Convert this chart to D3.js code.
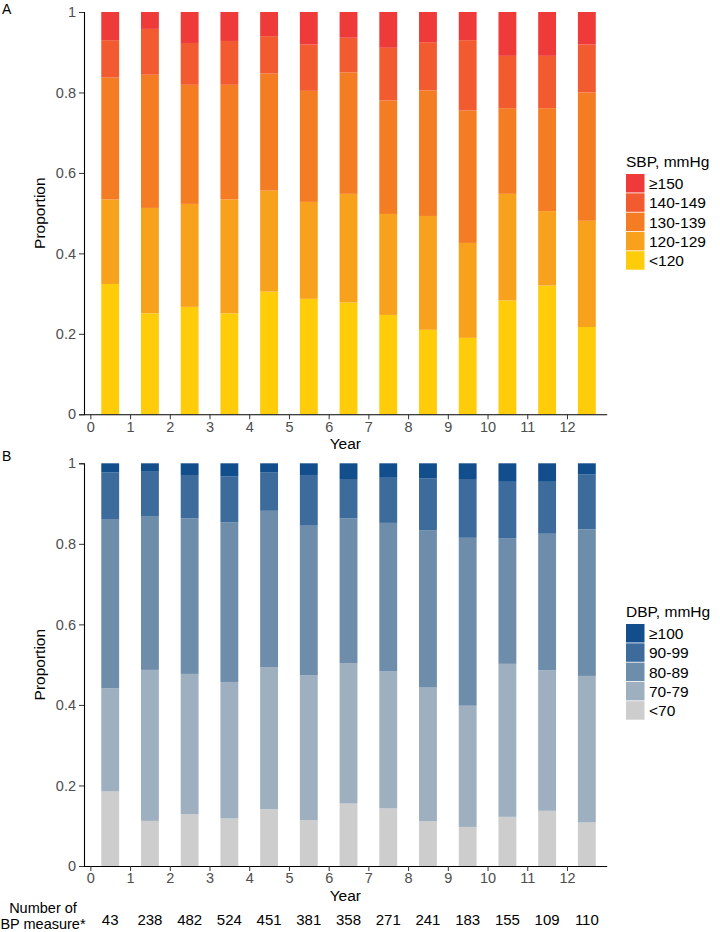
<!DOCTYPE html>
<html>
<head>
<meta charset="utf-8">
<script src="https://cdn.jsdelivr.net/npm/d3@7"></script>
<style>
  html, body { margin: 0; padding: 0; background: #fff; }
  svg { display: block; font-family: "Liberation Sans", Arial, sans-serif; }
</style>
</head>
<body>
<svg id="chart" width="720" height="932"></svg>
<script>
// ---- Data ----
const years = [0.5, 1.5, 2.5, 3.5, 4.5, 5.5, 6.5, 7.5, 8.5, 9.5, 10.5, 11.5, 12.5];
const xTicks = [0, 1, 2, 3, 4, 5, 6, 7, 8, 9, 10, 11, 12];
const yTicks = [0, 0.2, 0.4, 0.6, 0.8, 1];
const counts = [43, 238, 482, 524, 451, 381, 358, 271, 241, 183, 155, 109, 110];

// SBP categories (bottom to top)
const sbpCats = ["<120", "120-129", "130-139", "140-149", "≥150"];
const sbpColors = ["#FFCC0A", "#F8A11C", "#F47C23", "#F15B2F", "#EE3B3A"];
const sbpLt120   = [0.324, 0.251, 0.267, 0.251, 0.305, 0.287, 0.278, 0.247, 0.210, 0.190, 0.283, 0.320, 0.217];
const sbp120_129 = [0.210, 0.262, 0.256, 0.283, 0.251, 0.241, 0.270, 0.251, 0.283, 0.236, 0.265, 0.185, 0.264];
const sbp130_139 = [0.303, 0.331, 0.296, 0.285, 0.291, 0.276, 0.302, 0.282, 0.312, 0.329, 0.213, 0.256, 0.319];
const sbp140_149 = [0.093, 0.114, 0.104, 0.109, 0.093, 0.115, 0.086, 0.131, 0.120, 0.175, 0.130, 0.130, 0.119];
const sbpGe150   = [0.070, 0.042, 0.077, 0.072, 0.060, 0.081, 0.064, 0.089, 0.075, 0.070, 0.109, 0.109, 0.081];

// DBP categories (bottom to top)
const dbpCats = ["<70", "70-79", "80-89", "90-99", "≥100"];
const dbpColors = ["#CDCDCD", "#9EB0C0", "#6E8DAB", "#3D6B9C", "#134E8C"];
const dbpLt70   = [0.185, 0.112, 0.129, 0.118, 0.141, 0.114, 0.155, 0.143, 0.111, 0.097, 0.122, 0.137, 0.108];
const dbp70_79  = [0.256, 0.375, 0.348, 0.339, 0.353, 0.360, 0.349, 0.340, 0.332, 0.301, 0.380, 0.349, 0.364];
const dbp80_89  = [0.419, 0.382, 0.386, 0.396, 0.388, 0.371, 0.359, 0.369, 0.391, 0.417, 0.311, 0.339, 0.364];
const dbp90_99  = [0.117, 0.110, 0.106, 0.114, 0.096, 0.126, 0.098, 0.112, 0.129, 0.146, 0.141, 0.129, 0.137];
const dbpGe100  = [0.023, 0.021, 0.031, 0.033, 0.022, 0.029, 0.039, 0.036, 0.037, 0.039, 0.046, 0.046, 0.027];

const svg = d3.select("#chart");

const x = d3.scaleLinear().domain([-0.16, 13.0]).range([84, 606.7]);
const barW = x(0.45) - x(0);

function panel(opts) {
  const { y0, y1, series, cats, colors, letter, letterY, legendTitle, legendY } = opts;
  const y = d3.scaleLinear().domain([0, 1]).range([y0, y1]);
  const g = svg.append("g");

  const rows = years.map((yr, i) => {
    const r = { year: yr };
    cats.forEach((c, k) => { r[c] = series[k][i]; });
    return r;
  });
  const stacked = d3.stack().keys(cats)(rows);

  g.selectAll("g.layer").data(stacked).join("g")
    .attr("fill", (d, k) => colors[k])
    .selectAll("rect").data(d => d).join("rect")
    .attr("x", d => x(d.data.year) - barW / 2)
    .attr("width", barW)
    .attr("y", d => y(d[1]))
    .attr("height", d => y(d[0]) - y(d[1]));

  // y axis
  const ya = g.append("g").attr("transform", `translate(${x.range()[0]},0)`)
    .call(d3.axisLeft(y).tickValues(yTicks).tickFormat(d => d === 0 ? "0" : d === 1 ? "1" : d3.format(".1f")(d)).tickSize(5).tickPadding(3));
  ya.select(".domain").attr("stroke", "#000").attr("stroke-width", 1.1);
  ya.selectAll(".tick line").attr("stroke", "#333");
  ya.selectAll(".tick text").attr("fill", "#4D4D4D").style("font-size", "14.5px");

  // x axis
  const xa = g.append("g").attr("transform", `translate(0,${y0})`)
    .call(d3.axisBottom(x).tickValues(xTicks).tickFormat(d3.format("d")).tickSize(5).tickPadding(2).tickSizeOuter(0));
  xa.select(".domain").attr("stroke", "#000").attr("stroke-width", 1.1);
  xa.selectAll(".tick line").attr("stroke", "#333");
  xa.selectAll(".tick text").attr("fill", "#4D4D4D").style("font-size", "14.5px");

  // axis titles
  g.append("text").attr("x", (x.range()[0] + x.range()[1]) / 2).attr("y", y0 + 35)
    .attr("text-anchor", "middle").style("font-size", "15.5px").attr("fill", "#000").text("Year");
  g.append("text")
    .attr("transform", `translate(45,${(y0 + y1) / 2}) rotate(-90)`)
    .attr("text-anchor", "middle").style("font-size", "15.5px").attr("fill", "#000").text("Proportion");

  // panel letter
  g.append("text").attr("x", 2).attr("y", letterY).style("font-size", "14px").attr("fill", "#000").text(letter);

  // legend
  const lg = g.append("g").attr("transform", `translate(626,${legendY})`);
  lg.append("text").attr("x", 0).attr("y", 0).style("font-size", "15.5px").attr("fill", "#000").text(legendTitle);
  const order = cats.map((c, k) => k).reverse();
  order.forEach((k, j) => {
    const yy = 7 + j * 19.3;
    lg.append("rect").attr("x", 0).attr("y", yy).attr("width", 18.5).attr("height", 18.5).attr("fill", colors[k]);
    lg.append("text").attr("x", 23).attr("y", yy + 15).style("font-size", "15.5px").attr("fill", "#000").text(cats[k]);
  });
}

panel({
  y0: 414.3, y1: 12,
  series: [sbpLt120, sbp120_129, sbp130_139, sbp140_149, sbpGe150],
  cats: sbpCats, colors: sbpColors,
  letter: "A", letterY: 14,
  legendTitle: "SBP, mmHg", legendY: 167
});

panel({
  y0: 866, y1: 463.3,
  series: [dbpLt70, dbp70_79, dbp80_89, dbp90_99, dbpGe100],
  cats: dbpCats, colors: dbpColors,
  letter: "B", letterY: 461,
  legendTitle: "DBP, mmHg", legendY: 617
});

// counts row
svg.append("g").selectAll("text").data(counts).join("text")
  .attr("x", (d, i) => x(years[i]))
  .attr("y", 924.5)
  .attr("text-anchor", "middle")
  .style("font-size", "15px").attr("fill", "#000")
  .text(d => d);

svg.append("text").attr("x", 43).attr("y", 913).attr("text-anchor", "middle")
  .style("font-size", "14.5px").attr("fill", "#000").text("Number of");
svg.append("text").attr("x", 43).attr("y", 929).attr("text-anchor", "middle")
  .style("font-size", "14.5px").attr("fill", "#000").text("BP measure*");
</script>
</body>
</html>
